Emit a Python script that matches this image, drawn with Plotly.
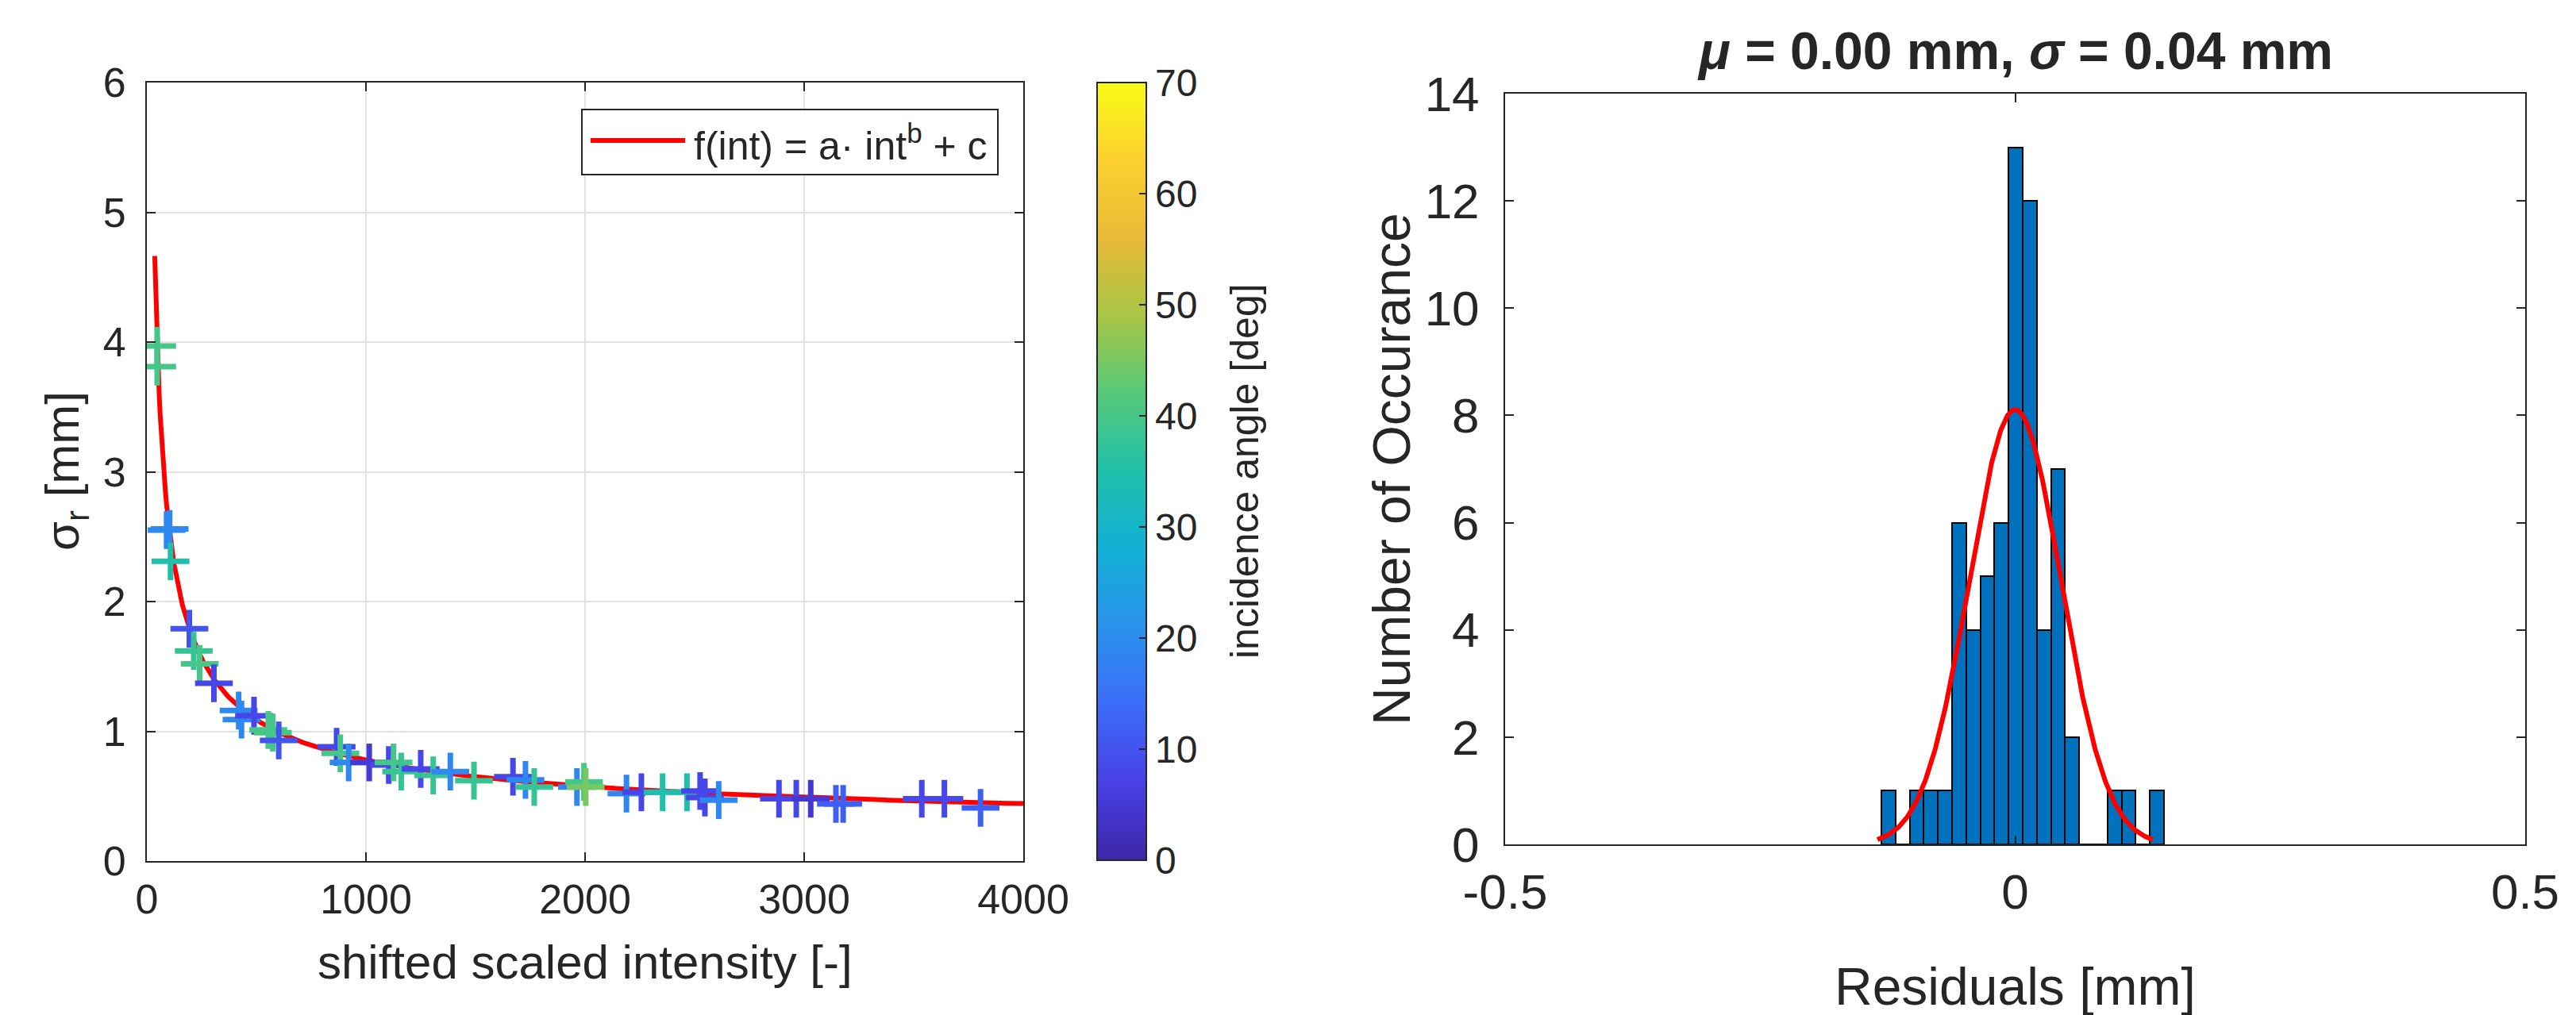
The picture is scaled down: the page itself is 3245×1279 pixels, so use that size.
import numpy as np
import plotly.graph_objects as go

# ---------------- data ----------------
# left panel: scatter points (shifted scaled intensity, sigma_r, incidence angle)
intensity = [47, 47, 90, 104, 108, 194, 214, 241, 306, 419, 432, 489, 554, 575, 602,
             866, 883, 921, 1015, 1104, 1126, 1161, 1250, 1307, 1385, 1493, 1671, 1728,
             1768, 1963, 1995, 2003, 2189, 2257, 2354, 2465, 2525, 2547, 2610, 2885, 2964,
             3030, 3145, 3178, 3537, 3640, 3805]
sigma_r = [3.97, 3.81, 2.55, 2.56, 2.31, 1.79, 1.62, 1.52, 1.37, 1.16, 1.09, 1.12, 1.01, 0.99, 0.93,
           0.88, 0.83, 0.76, 0.76, 0.74, 0.76, 0.69, 0.71, 0.66, 0.69, 0.62, 0.65, 0.625,
           0.57, 0.57, 0.61, 0.57, 0.52, 0.53, 0.53, 0.53, 0.54, 0.49, 0.47, 0.48, 0.48,
           0.48, 0.44, 0.44, 0.48, 0.48, 0.41]
angle = [40, 40, 19, 19, 35, 10, 38, 40, 8, 19, 19, 8, 40, 40, 10,
         8, 40, 19, 5, 8, 40, 38, 8, 38, 19, 38, 8, 19,
         38, 19, 40, 45, 19, 8, 35, 35, 8, 8, 19, 8, 8,
         5, 12, 12, 8, 8, 12]

# fitted power law f(int) = a*int^b + c
fit_a, fit_b, fit_c = 39.8, -0.61, 0.19
fit_range = [36, 4000]

# right panel: histogram of residuals
bin_start = -0.1312
bin_width = 0.01386
counts = [1, 0, 1, 1, 1, 6, 4, 5, 6, 13, 12, 4, 7, 2, 0, 0, 1, 1, 0, 1]
fit_mu, fit_sigma = 0.0, 0.045
gauss_range = [-0.135, 0.135]

left_xticks = [0, 1000, 2000, 3000, 4000]
left_yticks = [0, 1, 2, 3, 4, 5, 6]
cbar_ticks = [0, 10, 20, 30, 40, 50, 60, 70]
right_xticks = [-0.5, 0, 0.5]
right_xticktext = ["-0.5", "0", "0.5"]
right_yticks = [0, 2, 4, 6, 8, 10, 12, 14]

# ---------------- styling ----------------
W, H = 3245, 1279
FONT = "Liberation Sans, Arial, Helvetica, sans-serif"
TXT = "#262626"
parula = [
    [0.0, "#3e26a8"], [0.1, "#4840e6"], [0.2, "#3c6cf9"], [0.3, "#2a92ec"],
    [0.4, "#12b0d6"], [0.5, "#1fc0aa"], [0.6, "#56c97a"], [0.7, "#a8c545"],
    [0.8, "#e8ba37"], [0.9, "#fbd02e"], [1.0, "#f9fb14"],
]

def px_x(p):
    return p / W

def px_y(p):
    return 1 - p / H

fig = go.Figure()

# fit curve (left)
xf = np.linspace(fit_range[0], fit_range[1], 800)
yf = fit_a * xf ** fit_b + fit_c
fig.add_trace(go.Scatter(x=xf, y=yf, mode="lines", line=dict(color="#ff0000", width=6),
                         showlegend=False, xaxis="x", yaxis="y", hoverinfo="skip"))

# scatter points
fig.add_trace(go.Scatter(
    x=intensity, y=sigma_r, mode="markers", xaxis="x", yaxis="y", showlegend=False,
    marker=dict(
        symbol="cross-thin", size=34,
        color=angle, colorscale=parula, cmin=0, cmax=70,
        line=dict(width=7, color=angle, colorscale=parula, cmin=0, cmax=70),
        colorbar=dict(
            x=px_x(1374), xanchor="left", y=px_y(586), yanchor="middle",
            thickness=62, thicknessmode="pixels", len=980, lenmode="pixels",
            outlinewidth=2, outlinecolor=TXT,
            tickvals=cbar_ticks, ticks="inside", ticklen=10, tickwidth=2, tickcolor=TXT,
            tickfont=dict(family=FONT, size=48, color=TXT), xpad=0, ypad=0,
        ),
    ),
))

# histogram bars (right)
centers = [bin_start + bin_width * (i + 0.5) for i in range(len(counts))]
fig.add_trace(go.Bar(x=centers, y=counts, width=bin_width, xaxis="x2", yaxis="y2",
                     marker=dict(color="#0072BD", line=dict(color="#000000", width=2)),
                     showlegend=False))

# gaussian fit (right)
n_total = sum(counts)
xg = np.linspace(gauss_range[0], gauss_range[1], 400)
yg = n_total * bin_width / (fit_sigma * np.sqrt(2 * np.pi)) * np.exp(-0.5 * ((xg - fit_mu) / fit_sigma) ** 2)
fig.add_trace(go.Scatter(x=xg, y=yg, mode="lines", line=dict(color="#ff0000", width=6),
                         xaxis="x2", yaxis="y2", showlegend=False, hoverinfo="skip"))

axis_common = dict(showline=True, linecolor=TXT, linewidth=2, mirror="ticks",
                   ticks="inside", ticklen=11, tickwidth=2, tickcolor=TXT,
                   zeroline=False, automargin=False)

fig.update_layout(
    width=W, height=H, margin=dict(l=0, r=0, t=0, b=0),
    paper_bgcolor="white", plot_bgcolor="white",
    font=dict(family=FONT, color=TXT),
    bargap=0,
    xaxis=dict(domain=[px_x(177), px_x(1281)], range=[0, 4000], tickvals=left_xticks,
               showgrid=True, gridcolor="#e2e2e2", gridwidth=2,
               tickfont=dict(size=52, color=TXT), ticklabelstandoff=2, **axis_common),
    yaxis=dict(domain=[px_y(1077), px_y(96)], range=[0, 6], tickvals=left_yticks,
               showgrid=True, gridcolor="#e2e2e2", gridwidth=2,
               tickfont=dict(size=52, color=TXT), ticklabelstandoff=14, **axis_common),
    xaxis2=dict(domain=[px_x(1888), px_x(3173)], range=[-0.5, 0.5], tickvals=right_xticks,
                ticktext=right_xticktext, showgrid=False, anchor="y2",
                tickfont=dict(size=62, color=TXT), ticklabelstandoff=5, **axis_common),
    yaxis2=dict(domain=[px_y(1056), px_y(110)], range=[0, 14], tickvals=right_yticks,
                showgrid=False, anchor="x2",
                tickfont=dict(size=62, color=TXT), ticklabelstandoff=18, **axis_common),
)

ann = [
    dict(text="σ<sub>r</sub> [mm]", x=px_x(75), y=px_y(586), textangle=-90, font=dict(size=60)),
    dict(text="shifted scaled intensity [-]", x=px_x(729), y=px_y(1204), font=dict(size=60)),
    dict(text="incidence angle [deg]", x=px_x(1560), y=px_y(586), textangle=-90, font=dict(size=50)),
    dict(text="Number of Occurance", x=px_x(1745), y=px_y(583), textangle=-90, font=dict(size=66)),
    dict(text="Residuals [mm]", x=px_x(2530), y=px_y(1235), font=dict(size=66)),
    dict(text="<b><i>μ</i> = 0.00 mm, <i>σ</i> = 0.04 mm</b>", x=px_x(2530), y=px_y(56), font=dict(size=66)),
    dict(text="f(int) = a· int<sup>b</sup> + c", x=px_x(864), y=px_y(172), xanchor="left",
         font=dict(size=50)),
]
for a in ann:
    a.setdefault("xanchor", "center")
    a.update(xref="paper", yref="paper", yanchor="middle", showarrow=False)
    a["font"] = dict(family=FONT, color=TXT, **a["font"])
fig.update_layout(annotations=ann)

# custom legend box
fig.add_shape(type="rect", xref="paper", yref="paper",
              x0=px_x(725), x1=px_x(1249), y0=px_y(212), y1=px_y(130),
              line=dict(color=TXT, width=2), fillcolor="white", layer="above")
fig.add_shape(type="line", xref="paper", yref="paper",
              x0=px_x(736), x1=px_x(855), y0=px_y(169), y1=px_y(169),
              line=dict(color="#ff0000", width=6), layer="above")

fig.write_html("out.html")
